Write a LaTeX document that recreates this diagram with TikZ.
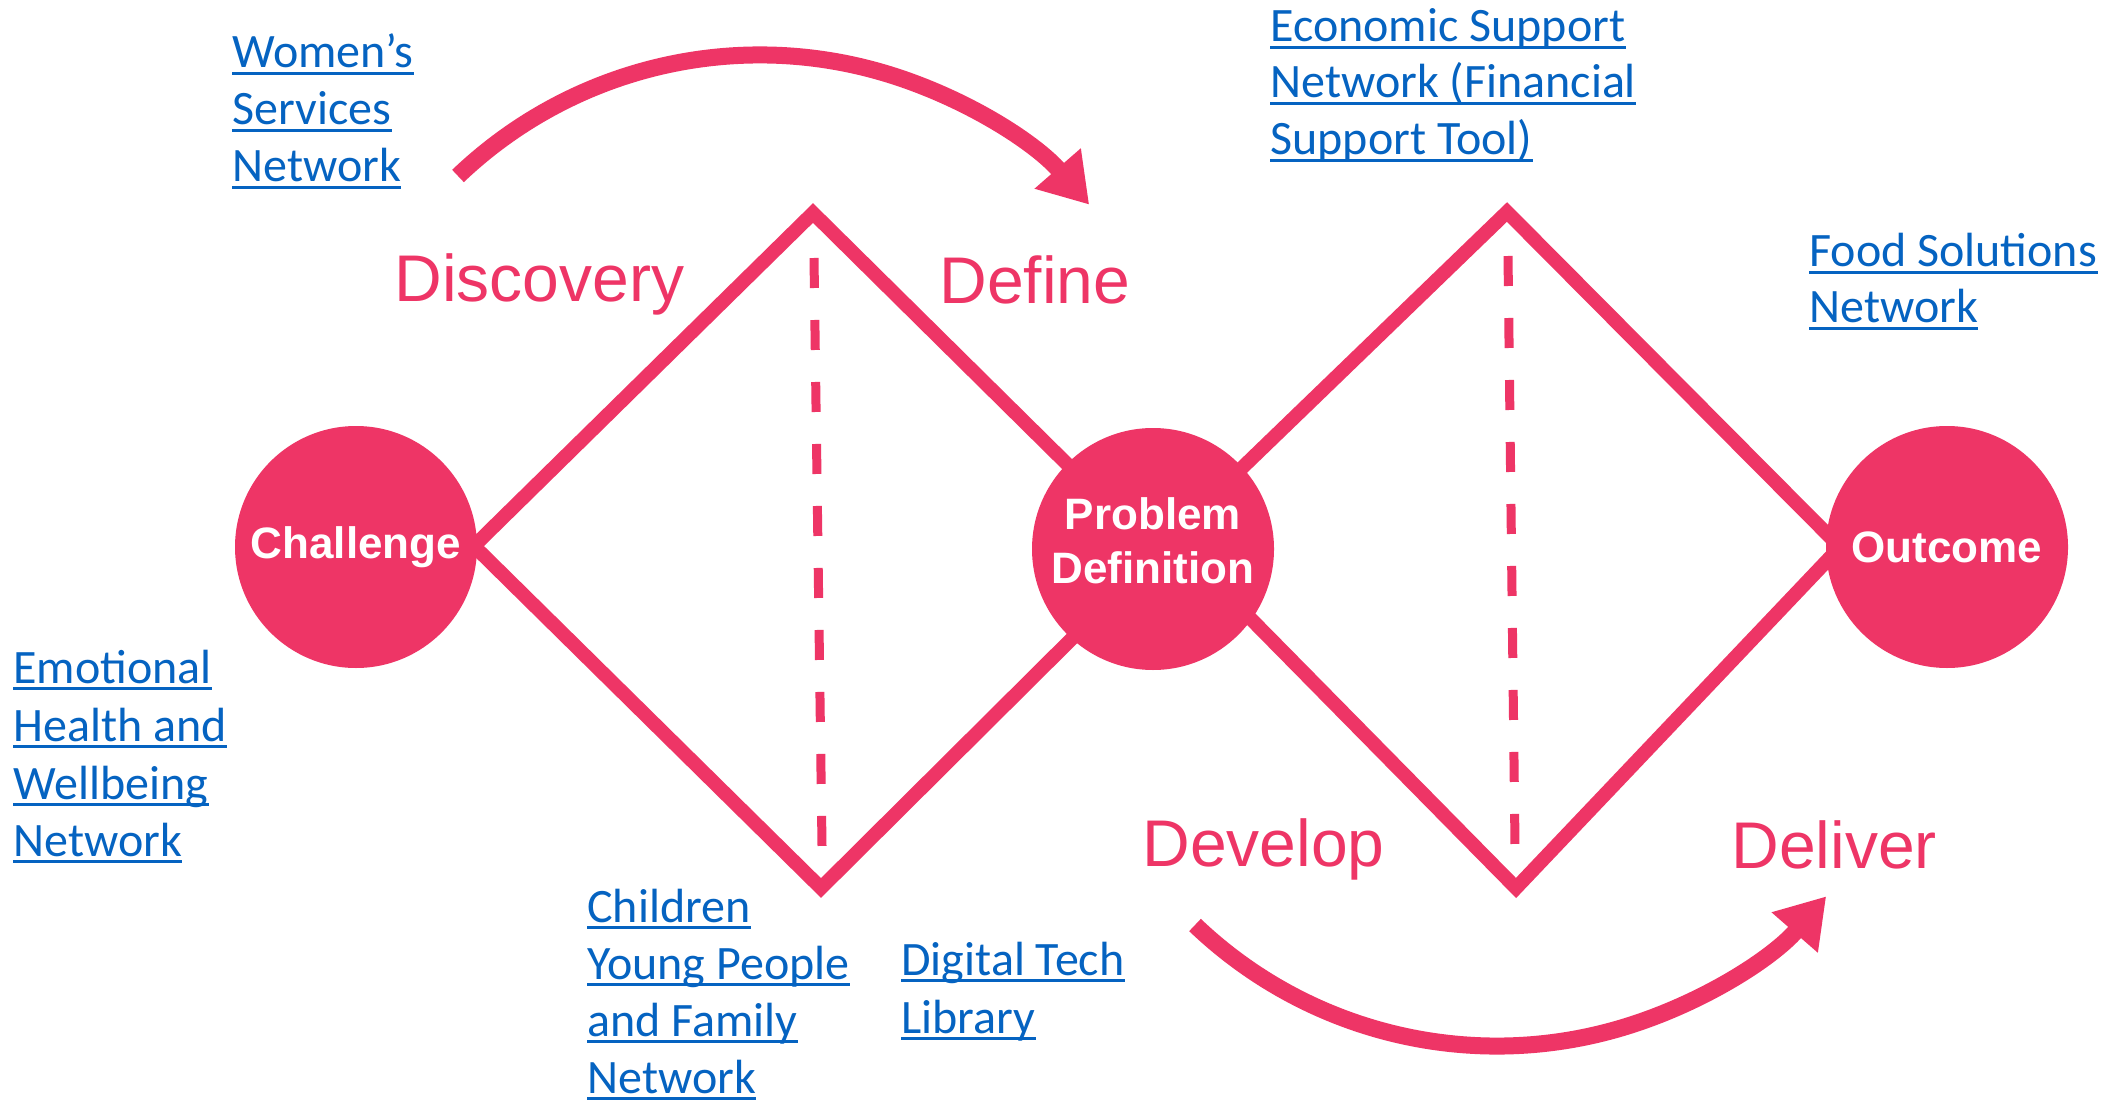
\documentclass[tikz,border=0pt]{standalone}
\usepackage{fontspec}
\setmainfont{Carlito}
\newfontfamily\helv{Liberation Sans}
\usetikzlibrary{arrows.meta}
\definecolor{dpink}{RGB}{238,53,102}
\definecolor{lnkblue}{RGB}{5,99,193}
\newcommand\ulink[3]{\node[link] (#1) at (#2) {#3};
  \draw[uline] ([yshift=-2.75pt]#1.base west) -- ([yshift=-2.75pt]#1.base east);}
\begin{document}
\begin{tikzpicture}[x=0.5pt,y=-0.5pt,
  link/.style={anchor=base west, inner sep=0pt, text=lnkblue, font=\fontsize{24}{28}\selectfont},
  uline/.style={draw=lnkblue, line width=1.7pt},
  phase/.style={anchor=base west, inner sep=0pt, text=dpink, font=\helv\fontsize{33}{38}\selectfont},
  stage/.style={circle, fill=dpink, minimum size=121pt, inner sep=0pt, text=white, font=\helv\bfseries\fontsize{22}{27}\selectfont},
  stagetext/.style={text=white, font=\helv\bfseries\fontsize{22}{27}\selectfont, align=center, inner sep=0pt},
  diam/.style={draw=dpink, line width=7pt, line join=miter},
  midline/.style={draw=dpink, line width=4.5pt, dash pattern=on 15pt off 16pt},
  flow/.style={draw=dpink, line width=8.5pt, -{Triangle[length=24pt,width=29pt]}}
]
\fill[white] (0,0) rectangle (2113,1101);
\useasboundingbox (0,0) rectangle (2113,1101);

% diamonds
\coordinate (d1a) at (1153,549);
\coordinate (d1t) at (813,213);
\coordinate (d1l) at (474,546);
\coordinate (d1b) at (821,888);
\coordinate (d1c) at (1162,549);
\draw[diam] (d1a) -- (d1t) -- (d1l) -- (d1b) -- (d1c);
\coordinate (d2a) at (1158,549);
\coordinate (d2t) at (1507,212);
\coordinate (d2r) at (1840,547);
\coordinate (d2b) at (1516,888);
\coordinate (d2c) at (1182,549);
\draw[diam] (d2a) -- (d2t) -- (d2r) -- (d2b) -- (d2c);

% dashed centre lines
\coordinate (m1t) at (814,258);
\coordinate (m1b) at (822,846);
\coordinate (m2t) at (1508,256);
\coordinate (m2b) at (1515,846);
\draw[midline] (m1t) -- (m1b);
\draw[midline] (m2t) -- (m2b);

% circles
\node[stage] (chal) at (356,547) {Challenge};
\node[stage] (pd) at (1153,549) {};
\node[stagetext] (pdt) at (1153,541) {Problem\\Definition};
\node[stage] (out) at (1947,547) {Outcome};

% arcs
\coordinate (a1s) at (458,176);
\coordinate (a2s) at (1195,925);
\draw[flow] (a1s) arc[start angle=-133.7, end angle=-41.1, radius=437];
\draw[flow] (a2s) arc[start angle=133.7, end angle=41.1, radius=437];

% phase labels
\node[phase] (disc) at (394,302) {Discovery};
\node[phase] (defi) at (939,304) {Define};
\node[phase] (deve) at (1142,866) {Develop};
\node[phase] (deli) at (1731,868) {Deliver};

% links
\ulink{w1}{232,68}{Women’s}
\ulink{w2}{232,125}{Services}
\ulink{w3}{232,182}{Network}
\ulink{e1}{1270,42}{Economic Support}
\ulink{e2}{1270,98}{Network (Financial}
\ulink{e3}{1270,155}{Support Tool)}
\ulink{f1}{1809,267}{Food Solutions}
\ulink{f2}{1809,323}{Network}
\ulink{h1}{13,683}{Emotional}
\ulink{h2}{13,741}{Health and}
\ulink{h3}{13,799}{Wellbeing}
\ulink{h4}{13,856}{Network}
\ulink{c1}{587,922}{Children}
\ulink{c2}{587,979}{Young People}
\ulink{c3}{587,1036}{and Family}
\ulink{c4}{587,1093}{Network}
\ulink{t1}{901,975}{Digital Tech}
\ulink{t2}{901,1033}{Library}
\end{tikzpicture}
\end{document}
